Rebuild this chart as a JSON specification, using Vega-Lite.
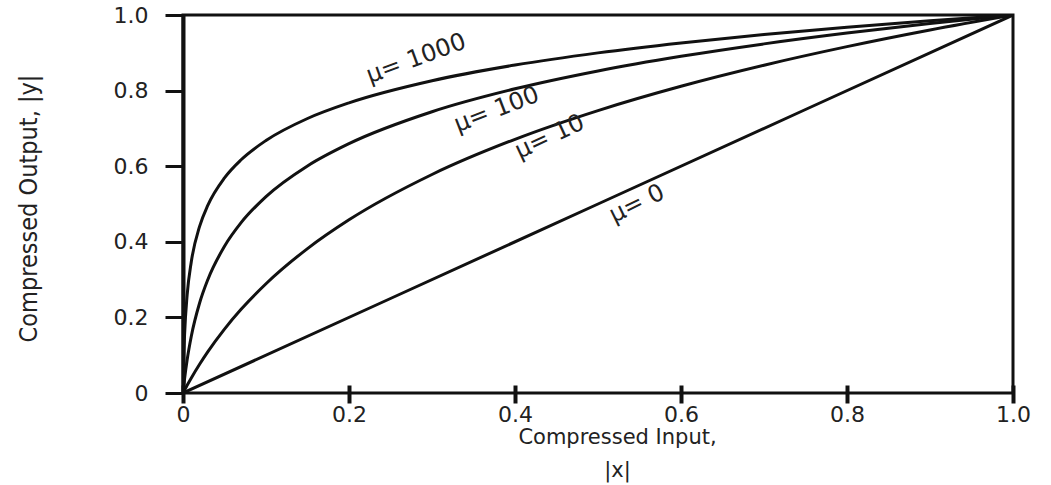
{
  "$schema": "https://vega.github.io/schema/vega-lite/v6.json",
  "autosize": {"type": "none"},
  "width": 830,
  "height": 378,
  "padding": {"left": 183, "top": 15, "right": 38, "bottom": 92},
  "background": "white",
  "config": {
    "view": {"stroke": "#111111", "strokeWidth": 3},
    "font": "DejaVu Sans"
  },
  "datasets": {
    "curves": [
      {"mu": "0", "x": 0, "y": 0},
      {"mu": "0", "x": 0.5, "y": 0.5},
      {"mu": "0", "x": 1, "y": 1},
      {"mu": "10", "x": 0, "y": 0},
      {"mu": "10", "x": 0.001, "y": 0.0041},
      {"mu": "10", "x": 0.002, "y": 0.0083},
      {"mu": "10", "x": 0.005, "y": 0.0203},
      {"mu": "10", "x": 0.01, "y": 0.0397},
      {"mu": "10", "x": 0.02, "y": 0.076},
      {"mu": "10", "x": 0.03, "y": 0.1094},
      {"mu": "10", "x": 0.05, "y": 0.1691},
      {"mu": "10", "x": 0.07, "y": 0.2213},
      {"mu": "10", "x": 0.1, "y": 0.2891},
      {"mu": "10", "x": 0.15, "y": 0.3821},
      {"mu": "10", "x": 0.2, "y": 0.4582},
      {"mu": "10", "x": 0.3, "y": 0.5781},
      {"mu": "10", "x": 0.4, "y": 0.6712},
      {"mu": "10", "x": 0.5, "y": 0.7472},
      {"mu": "10", "x": 0.6, "y": 0.8115},
      {"mu": "10", "x": 0.7, "y": 0.8672},
      {"mu": "10", "x": 0.8, "y": 0.9163},
      {"mu": "10", "x": 0.9, "y": 0.9603},
      {"mu": "10", "x": 1, "y": 1},
      {"mu": "100", "x": 0, "y": 0},
      {"mu": "100", "x": 0.001, "y": 0.0207},
      {"mu": "100", "x": 0.002, "y": 0.0395},
      {"mu": "100", "x": 0.005, "y": 0.0879},
      {"mu": "100", "x": 0.01, "y": 0.1502},
      {"mu": "100", "x": 0.02, "y": 0.238},
      {"mu": "100", "x": 0.03, "y": 0.3004},
      {"mu": "100", "x": 0.05, "y": 0.3882},
      {"mu": "100", "x": 0.07, "y": 0.4506},
      {"mu": "100", "x": 0.1, "y": 0.5196},
      {"mu": "100", "x": 0.15, "y": 0.6008},
      {"mu": "100", "x": 0.2, "y": 0.6597},
      {"mu": "100", "x": 0.3, "y": 0.7441},
      {"mu": "100", "x": 0.4, "y": 0.8047},
      {"mu": "100", "x": 0.5, "y": 0.852},
      {"mu": "100", "x": 0.6, "y": 0.8907},
      {"mu": "100", "x": 0.7, "y": 0.9236},
      {"mu": "100", "x": 0.8, "y": 0.9522},
      {"mu": "100", "x": 0.9, "y": 0.9774},
      {"mu": "100", "x": 1, "y": 1},
      {"mu": "1000", "x": 0, "y": 0},
      {"mu": "1000", "x": 0.001, "y": 0.1003},
      {"mu": "1000", "x": 0.002, "y": 0.159},
      {"mu": "1000", "x": 0.005, "y": 0.2593},
      {"mu": "1000", "x": 0.01, "y": 0.3471},
      {"mu": "1000", "x": 0.02, "y": 0.4407},
      {"mu": "1000", "x": 0.03, "y": 0.497},
      {"mu": "1000", "x": 0.05, "y": 0.5691},
      {"mu": "1000", "x": 0.07, "y": 0.617},
      {"mu": "1000", "x": 0.1, "y": 0.668},
      {"mu": "1000", "x": 0.15, "y": 0.7262},
      {"mu": "1000", "x": 0.2, "y": 0.7676},
      {"mu": "1000", "x": 0.3, "y": 0.8261},
      {"mu": "1000", "x": 0.4, "y": 0.8676},
      {"mu": "1000", "x": 0.5, "y": 0.8998},
      {"mu": "1000", "x": 0.6, "y": 0.9261},
      {"mu": "1000", "x": 0.7, "y": 0.9484},
      {"mu": "1000", "x": 0.8, "y": 0.9677},
      {"mu": "1000", "x": 0.9, "y": 0.9848},
      {"mu": "1000", "x": 1, "y": 1}
    ],
    "labels": [
      {"mu": "1000", "label": "μ= 1000", "x": 0.281, "y": 0.884},
      {"mu": "100", "label": "μ= 100", "x": 0.378, "y": 0.749},
      {"mu": "10", "label": "μ= 10", "x": 0.442, "y": 0.677},
      {"mu": "0", "label": "μ= 0", "x": 0.547, "y": 0.5}
    ]
  },
  "layer": [
    {
      "data": {"name": "curves"},
      "mark": {"type": "line", "interpolate": "monotone", "stroke": "#111111", "strokeWidth": 3, "clip": true},
      "encoding": {
        "x": {
          "field": "x", "type": "quantitative",
          "scale": {"domain": [0, 1], "nice": false, "zero": false},
          "axis": {
            "orient": "bottom",
            "values": [0, 0.2, 0.4, 0.6, 0.8, 1],
            "labelExpr": "datum.value == 0 ? '0' : format(datum.value, '.1f')",
            "offset": -8,
            "domain": false,
            "grid": false,
            "tickSize": 18,
            "tickWidth": 4,
            "tickColor": "#111111",
            "labelFont": "DejaVu Sans",
            "labelFontSize": 22,
            "labelColor": "#222222",
            "labelPadding": 1,
            "labelFlush": false,
            "labelOverlap": false,
            "title": ["Compressed Input,", "|x|"],
            "titleFont": "DejaVu Sans",
            "titleFontSize": 21,
            "titleFontWeight": "normal",
            "titleColor": "#222222",
            "titleX": 434,
            "titleY": 58,
            "titleBaseline": "alphabetic",
            "titleAlign": "center",
            "titleLineHeight": 33
          }
        },
        "y": {
          "field": "y", "type": "quantitative",
          "scale": {"domain": [0, 1], "nice": false, "zero": false},
          "axis": {
            "orient": "left",
            "values": [0, 0.2, 0.4, 0.6, 0.8, 1],
            "labelExpr": "datum.value == 0 ? '0' : format(datum.value, '.1f')",
            "domain": true,
            "domainColor": "#111111",
            "domainWidth": 4,
            "grid": false,
            "tickSize": 18,
            "tickWidth": 3,
            "tickColor": "#111111",
            "labelFont": "DejaVu Sans",
            "labelFontSize": 22,
            "labelColor": "#222222",
            "labelPadding": 17,
            "labelFlush": false,
            "labelOverlap": false,
            "labelBaseline": "middle",
            "title": "Compressed Output,  |y|",
            "titleFont": "DejaVu Sans Condensed",
            "titleFontSize": 25,
            "titleFontWeight": "normal",
            "titleColor": "#222222",
            "titleAngle": 270,
            "titleX": -155,
            "titleY": 193,
            "titleAlign": "center",
            "titleBaseline": "middle"
          }
        },
        "detail": {"field": "mu", "type": "nominal"}
      }
    },
    {
      "data": {"name": "labels"},
      "transform": [{"filter": "datum.mu == '1000'"}],
      "mark": {"type": "text", "angle": 340, "font": "DejaVu Sans", "fontSize": 24, "color": "#222222", "align": "center", "baseline": "middle"},
      "encoding": {"x": {"field": "x", "type": "quantitative"}, "y": {"field": "y", "type": "quantitative"}, "text": {"field": "label"}}
    },
    {
      "data": {"name": "labels"},
      "transform": [{"filter": "datum.mu == '100'"}],
      "mark": {"type": "text", "angle": 339, "font": "DejaVu Sans", "fontSize": 24, "color": "#222222", "align": "center", "baseline": "middle"},
      "encoding": {"x": {"field": "x", "type": "quantitative"}, "y": {"field": "y", "type": "quantitative"}, "text": {"field": "label"}}
    },
    {
      "data": {"name": "labels"},
      "transform": [{"filter": "datum.mu == '10'"}],
      "mark": {"type": "text", "angle": 335, "font": "DejaVu Sans", "fontSize": 24, "color": "#222222", "align": "center", "baseline": "middle"},
      "encoding": {"x": {"field": "x", "type": "quantitative"}, "y": {"field": "y", "type": "quantitative"}, "text": {"field": "label"}}
    },
    {
      "data": {"name": "labels"},
      "transform": [{"filter": "datum.mu == '0'"}],
      "mark": {"type": "text", "angle": 334, "font": "DejaVu Sans", "fontSize": 24, "color": "#222222", "align": "center", "baseline": "middle"},
      "encoding": {"x": {"field": "x", "type": "quantitative"}, "y": {"field": "y", "type": "quantitative"}, "text": {"field": "label"}}
    }
  ]
}
